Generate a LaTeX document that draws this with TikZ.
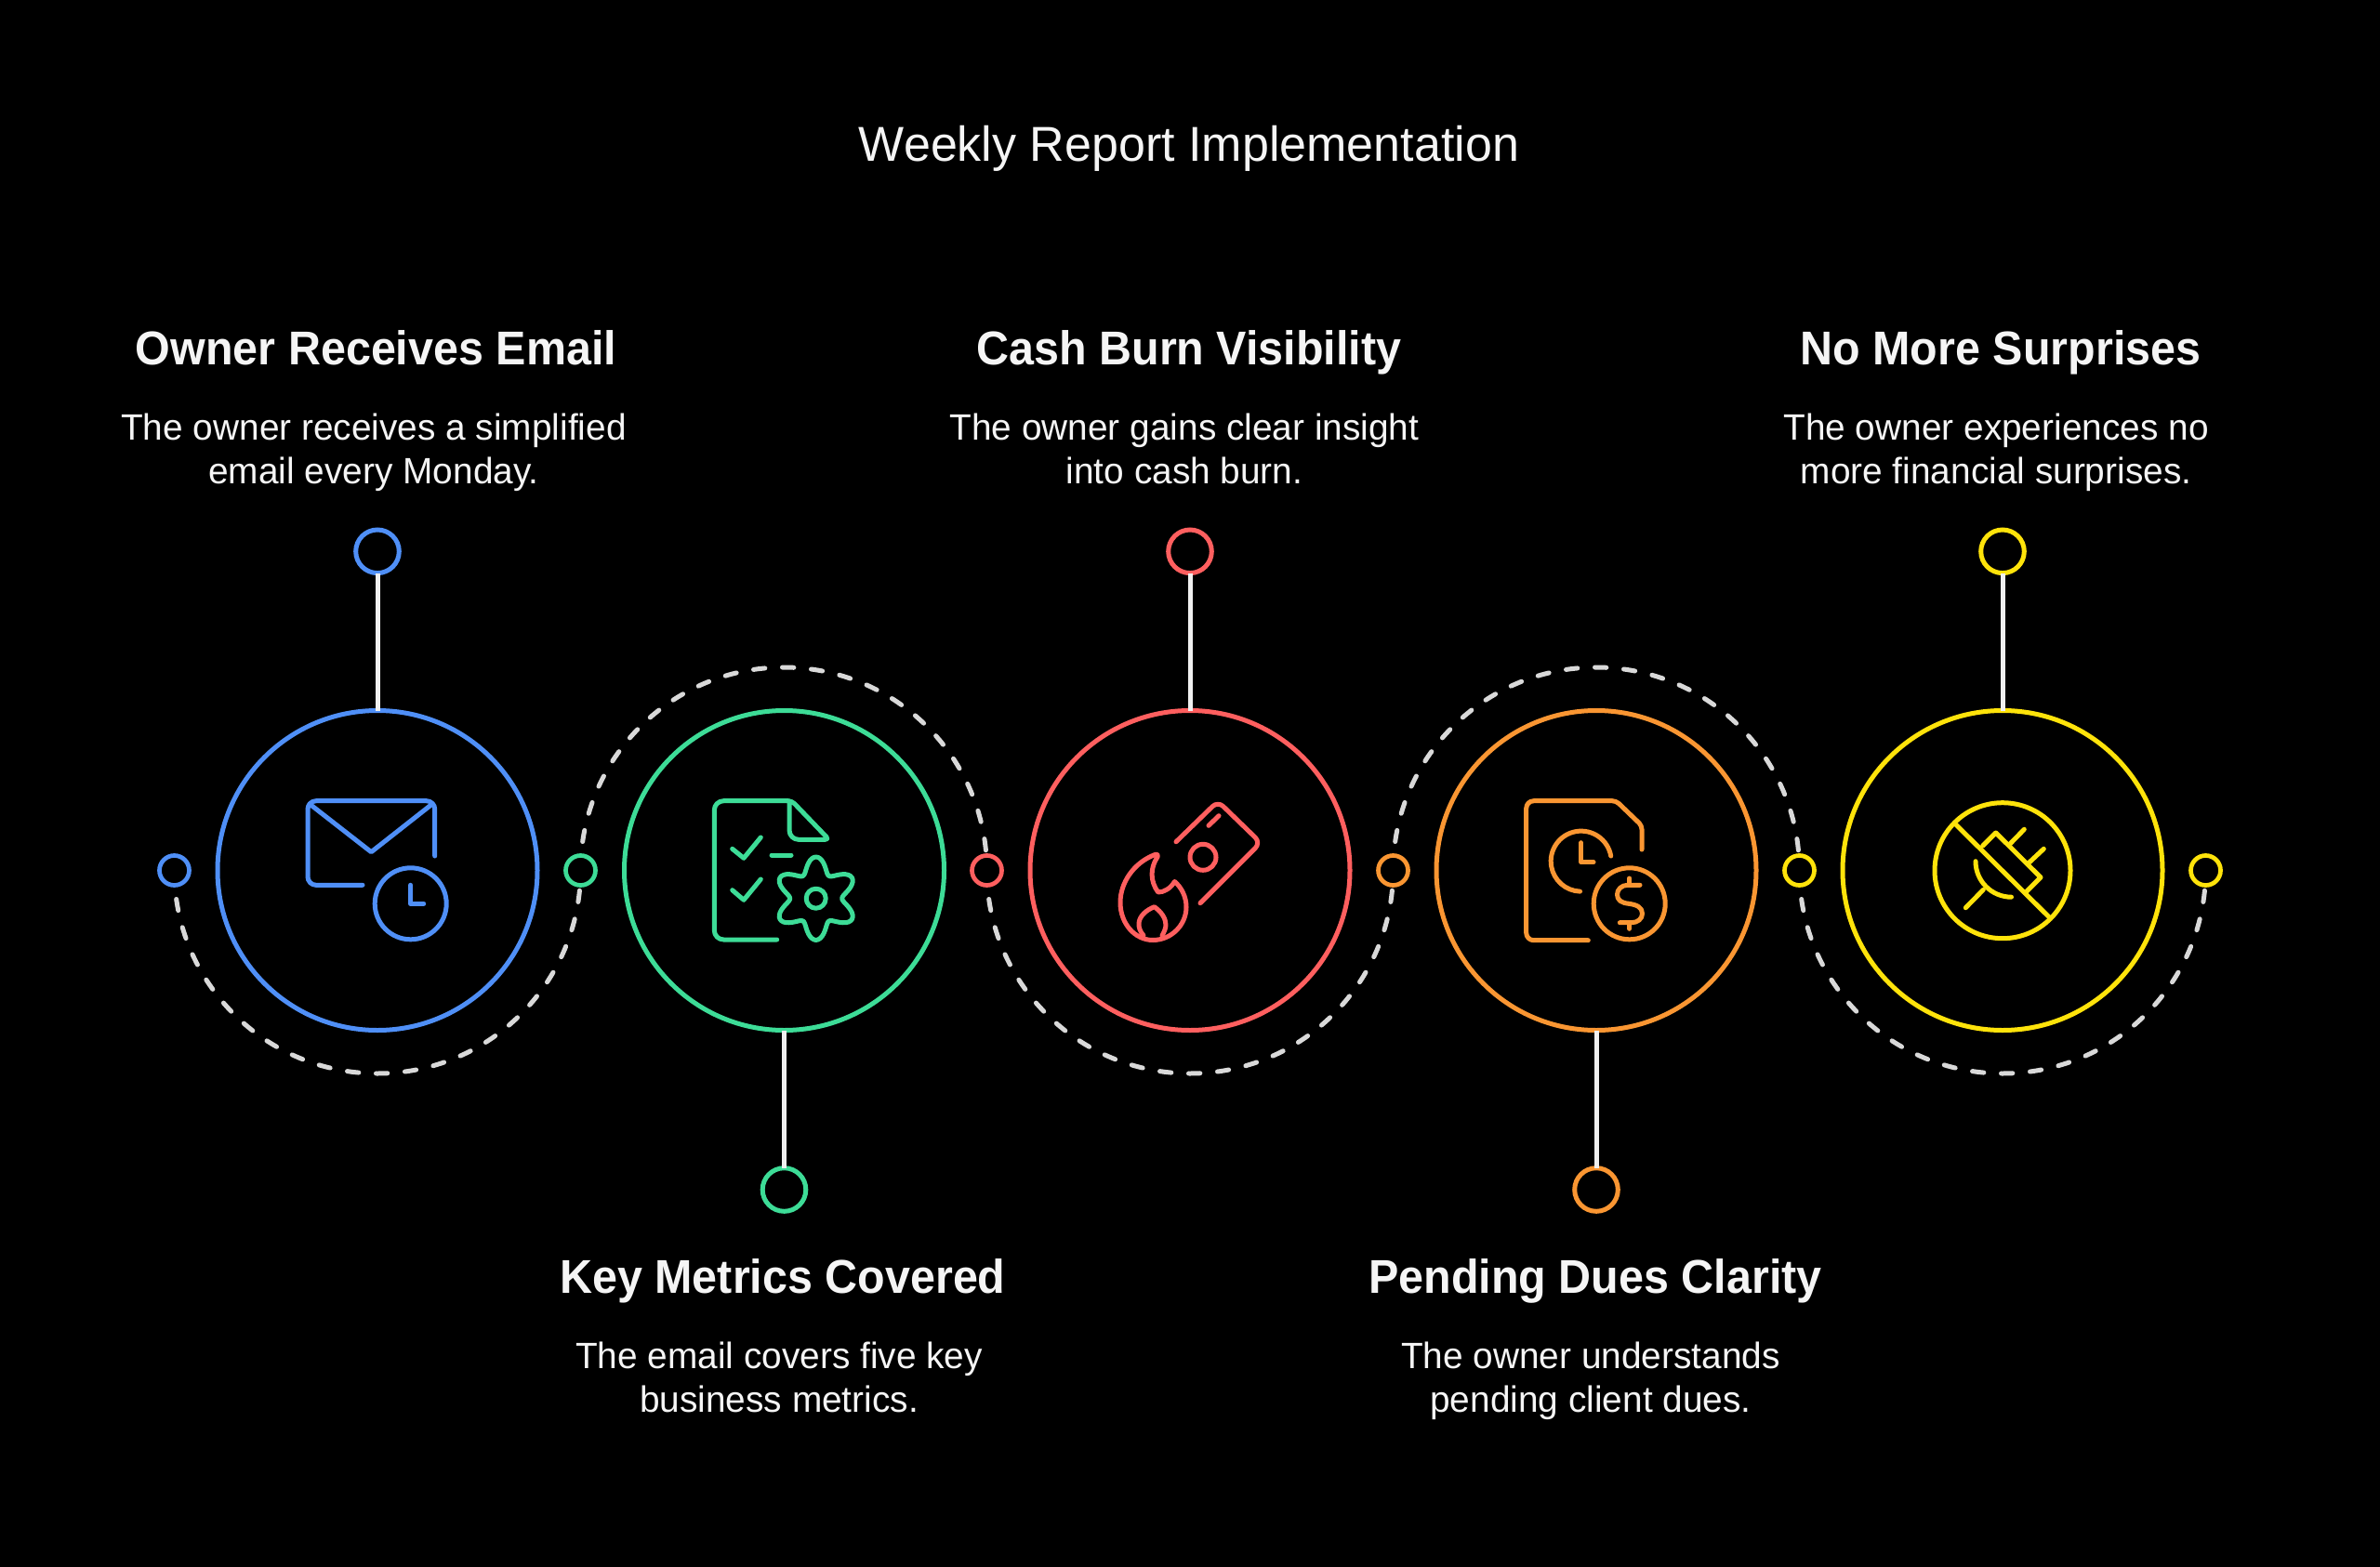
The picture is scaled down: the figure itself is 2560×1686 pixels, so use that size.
\documentclass[tikz,border=0pt]{standalone}
\usepackage{fontspec}
\setmainfont{Liberation Sans}
\newfontfamily\headfam[FakeStretch=0.95]{Liberation Sans}
\newfontfamily\bodyfam[FakeStretch=0.985]{Liberation Sans}
\definecolor{cblue}{HTML}{4F8FF7}
\definecolor{cgreen}{HTML}{3DDC97}
\definecolor{cred}{HTML}{FF5F5F}
\definecolor{corange}{HTML}{FA9632}
\definecolor{cyellow}{HTML}{FFE30A}
\definecolor{cdash}{HTML}{D9D9D9}
\definecolor{cstem}{HTML}{F0F0F0}
\definecolor{ctext}{HTML}{F5F5F5}
\tikzset{
  bigring/.style={circle,draw=#1,line width=2.5pt,minimum size=172pt,inner sep=0pt,outer sep=0pt},
  topdot/.style={circle,draw=#1,fill=black,line width=2.5pt,minimum size=23.3pt,inner sep=0pt,outer sep=0pt},
  middot/.style={circle,draw=#1,fill=black,line width=2.35pt,minimum size=16pt,inner sep=0pt,outer sep=0pt},
  stem/.style={draw=cstem,line width=2.5pt},
  dasharc/.style={draw=cdash,line width=2.5pt,line cap=round,dash pattern=on 6.15pt off 9.385pt},
  icon/.style={draw=#1,line width=2.5pt,line cap=round,line join=round},
  head/.style={text=ctext,inner sep=0pt,anchor=base,font=\headfam\bfseries\fontsize{25.5}{29}\selectfont},
  body/.style={text=ctext,inner sep=0pt,anchor=base,align=center,font=\bodyfam\fontsize{19.7}{23.5}\selectfont},
  ttl/.style={text=ctext,inner sep=0pt,anchor=base,font=\bodyfam\fontsize{26.4}{30}\selectfont},
}
\begin{document}
\begin{tikzpicture}[x=0.5pt,y=-0.5pt]
\useasboundingbox (0,0) rectangle (2560,1686);
\fill[black] (0,0) rectangle (2560,1686);
% dashed arcs
\draw[dasharc] (187.5,936.5) arc[start angle=180,end angle=90,radius=218.5] arc[start angle=90,end angle=0,radius=218.5];
\draw[dasharc] (624.5,936.5) arc[start angle=180,end angle=270,radius=218.5] arc[start angle=270,end angle=360,radius=218.5];
\draw[dasharc] (1061.5,936.5) arc[start angle=180,end angle=90,radius=218.5] arc[start angle=90,end angle=0,radius=218.5];
\draw[dasharc] (1498.5,936.5) arc[start angle=180,end angle=270,radius=218.5] arc[start angle=270,end angle=360,radius=218.5];
\draw[dasharc] (1935.5,936.5) arc[start angle=180,end angle=90,radius=218.5] arc[start angle=90,end angle=0,radius=218.5];
% small mid dots
\node[middot=cblue] (m1) at (187.5,936.5) {};
\node[middot=cgreen] (m2) at (624.5,936.5) {};
\node[middot=cred] (m3) at (1061.5,936.5) {};
\node[middot=corange] (m4) at (1498.5,936.5) {};
\node[middot=cyellow] (m5) at (1935.5,936.5) {};
\node[middot=cyellow] (m6) at (2372.5,936.5) {};
% rings
\node[bigring=cblue] (r1) at (406,936.5) {};
\node[bigring=cgreen] (r2) at (843.5,936.5) {};
\node[bigring=cred] (r3) at (1280,936.5) {};
\node[bigring=corange] (r4) at (1717,936.5) {};
\node[bigring=cyellow] (r5) at (2154,936.5) {};
% end dots
\node[topdot=cblue] (d1) at (406,593.3) {};
\node[topdot=cgreen] (d2) at (843.5,1280) {};
\node[topdot=cred] (d3) at (1280,593.3) {};
\node[topdot=corange] (d4) at (1717,1280) {};
\node[topdot=cyellow] (d5) at (2154,593.3) {};
% stems
\draw[stem] (d1.south) -- (r1.north);
\draw[stem] (d2.north) -- (r2.south);
\draw[stem] (d3.south) -- (r3.north);
\draw[stem] (d4.north) -- (r4.south);
\draw[stem] (d5.south) -- (r5.north);
% texts
\node[ttl] (title) at (1279,173.5) {Weekly Report Implementation};
\node[head] (h1) at (404.5,392) {Owner Receives Email};
\node[head] (h2) at (842,1391) {Key Metrics Covered};
\node[head] (h3) at (1279,392) {Cash Burn Visibility};
\node[head] (h4) at (1716,1391) {Pending Dues Clarity};
\node[head] (h5) at (2152,392) {No More Surprises};
\node[body] (b1) at (402,520) {The owner receives a simplified\\email every Monday.};
\node[body] (b2) at (838,1519) {The email covers five key\\business metrics.};
\node[body] (b3) at (1274,520) {The owner gains clear insight\\into cash burn.};
\node[body] (b4) at (1711,1519) {The owner understands\\pending client dues.};
\node[body] (b5) at (2147,520) {The owner experiences no\\more financial surprises.};
% icon 1: envelope and clock
\draw[icon=cblue,rounded corners=4.5pt] (467.7,921) -- (467.7,861.7) -- (331,861.7) -- (331,952.3) -- (390,952.3);
\draw[icon=cblue] (333,865) -- (399.3,916.7) -- (465,865);
\draw[icon=cblue] (441.7,972.3) circle[radius=38.5];
\draw[icon=cblue] (441.7,952.3) -- (441.7,972.3) -- (455.7,972.3);
% icon 2: document and gear
\draw[icon=cgreen,rounded corners=5pt] (835.7,1011) -- (768.3,1011) -- (768.3,861.7) [rounded corners=2pt] -- (851.7,861.7) -- (891.7,903.3) [rounded corners=5pt] -- (849,903.3) -- (849,861.7);
\draw[icon=cgreen] (787.7,913.3) -- (800,923.3) -- (818.3,901);
\draw[icon=cgreen] (787.7,957.7) -- (800,968.3) -- (818.3,946);
\draw[icon=cgreen] (830,920) -- (851,920);
\draw[icon=cgreen,smooth,samples=121,domain=0:360,variable=\t] plot ({877.7+(36.35+8.35*cos(6*\t))*cos(\t+90)},{966.7+(36.35+8.35*cos(6*\t))*sin(\t+90)}) -- cycle;
\draw[icon=cgreen] (877.7,966.7) circle[radius=10.5];
% icon 3: burning banknote
\draw[icon=cred,rounded corners=4pt] (1265,905.7) -- (1310,862) -- (1356,906.7) -- (1291,971.7);
\draw[icon=cred] (1300,888.3) -- (1311,877.7);
\draw[icon=cred] (1294,922.3) circle[radius=14];
\draw[icon=cred] (1241,920) .. controls (1219,929) and (1205,950) .. (1205,971) .. controls (1205,994) and (1221,1011.5) .. (1240,1011.5) .. controls (1260,1011.5) and (1276,995) .. (1276,976) .. controls (1276,965) and (1271,955) .. (1263.5,948.5) .. controls (1259,956) and (1252,960) .. (1245.7,960) .. controls (1237,948) and (1237,934) .. (1245,922) .. controls (1246,919) and (1244,918.5) .. (1241,920);
\draw[icon=cred] (1230,1006.5) .. controls (1226,1002) and (1225,998) .. (1225,994) .. controls (1225,986) and (1233,979) .. (1241.7,975.7) .. controls (1249,981) and (1254,988) .. (1254,995) .. controls (1254,999) and (1252,1003) .. (1250,1006.5);
% icon 4: document, clock and coin
\draw[icon=corange,rounded corners=4pt] (1708.3,1011.7) -- (1641.7,1011.7) -- (1641.7,861.7) [rounded corners=2pt] -- (1738.3,861.7) -- (1766,888.3) -- (1766,914);
\draw[icon=corange] (1732.7,921) arc[start angle=-10,end angle=-268,radius=32.5];
\draw[icon=corange] (1700.7,906.7) -- (1700.7,927.7) -- (1714,927.7);
\draw[icon=corange] (1752.7,972.3) circle[radius=38.5];
\draw[icon=corange] (1764,952.3) -- (1751,952.3) .. controls (1744,952.3) and (1739.5,957) .. (1739.5,962.5) .. controls (1739.5,968.5) and (1744,971.5) .. (1752,972.3) .. controls (1761,973.5) and (1766.5,976.5) .. (1766.5,983) .. controls (1766.5,988.5) and (1761.5,992.7) .. (1755,992.7) -- (1742.3,992.7);
\draw[icon=corange] (1752.7,945) -- (1752.7,952.3);
\draw[icon=corange] (1752.7,992.7) -- (1752.7,999.3);
% icon 5: crossed-out plug
\draw[icon=cyellow] (2154,936.7) circle[radius=73];
\draw[icon=cyellow] (2103.3,886.7) -- (2204,986.7);
\draw[icon=cyellow] (2132.7,910) -- (2146.7,896) -- (2195,944) -- (2180,959);
\draw[icon=cyellow] (2162.3,907.7) -- (2177.3,892.3);
\draw[icon=cyellow] (2182.3,928.3) -- (2198.3,913.3);
\draw[icon=cyellow] (2125,926.7) arc[start angle=180,end angle=90,radius=38.5];
\draw[icon=cyellow] (2133.3,957.3) -- (2114.3,976.7);
\end{tikzpicture}
\end{document}
